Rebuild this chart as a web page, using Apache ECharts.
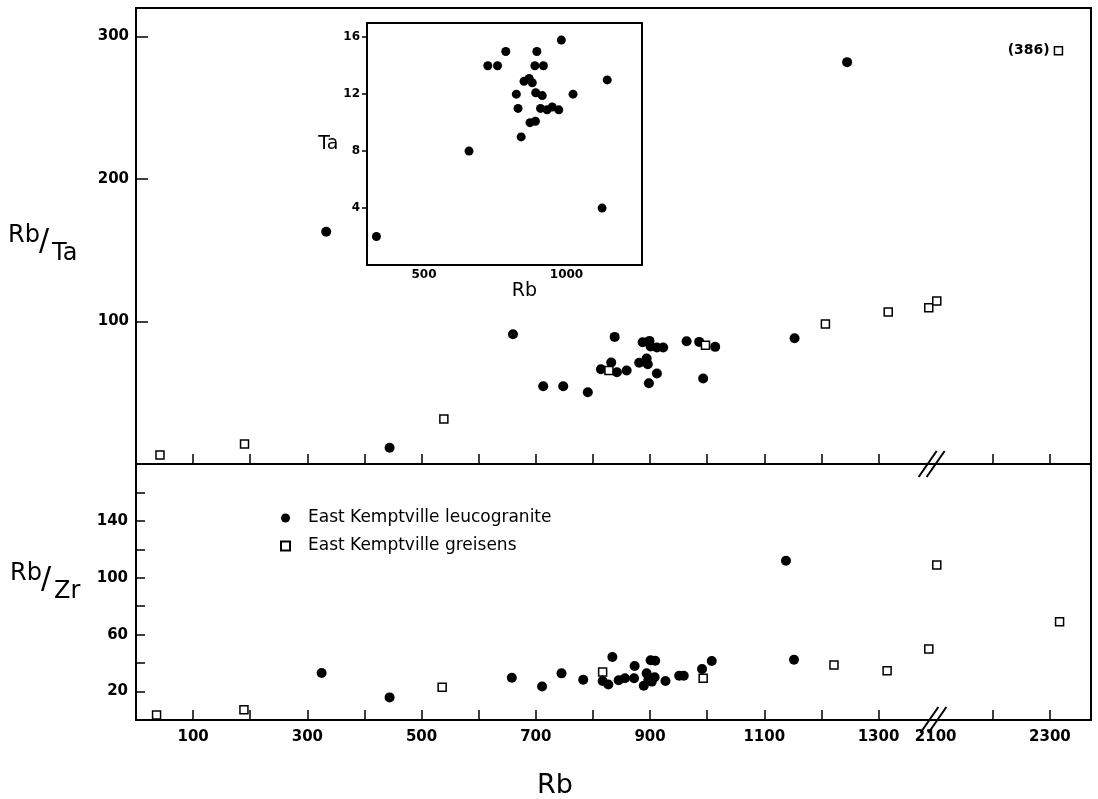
<!DOCTYPE html>
<html><head><meta charset="utf-8">
<script src="https://cdn.jsdelivr.net/npm/echarts@6/dist/echarts.min.js"></script>
<style>html,body{margin:0;padding:0;background:#fff}#c{width:1098px;height:799px}</style>
</head><body><div id="c"></div>
<script>
// ---------- data (Rb in ppm, ratios) ----------
const leucoRbTa_Rb = [333, 444, 660, 713, 748, 791, 814, 832, 838, 842, 859, 881, 887, 894, 896, 898, 899, 901, 912, 912, 923, 964, 986, 993, 1014, 1153, 1245];
const leucoRbTa    = [163, 11.4, 91, 54.6, 54.6, 50.4, 66.5, 71.2, 89.2, 64.4, 65.6, 71, 85.4, 74, 70, 56.7, 86.4, 82.4, 81.7, 63.5, 81.7, 86.1, 85.7, 60, 82.2, 88.2, 282];
const greisRbTa_Rb = [42, 190, 539, 828, 997, 1207, 1317, 2088, 2102, 2315];
const greisRbTa    = [6.3, 14, 31.5, 65.6, 83.3, 98.3, 106.7, 109.7, 114.4, 386];

const leucoRbZr_Rb = [325, 444, 658, 711, 745, 783, 817, 827, 834, 845, 856, 872, 873, 889, 894, 897, 901, 903, 908, 909, 927, 951, 959, 991, 1008, 1138, 1152];
const leucoRbZr    = [33, 15.9, 29.7, 23.5, 32.8, 28.3, 27.4, 25, 44.3, 28, 29.3, 29.3, 38, 24.1, 32.8, 28.1, 42, 27, 30, 41.7, 27.4, 31.1, 31.1, 35.8, 41.5, 112, 42.4];
const greisRbZr_Rb = [36, 189, 536, 817, 993, 1222, 1315, 2088, 2102, 2317];
const greisRbZr    = [3.5, 7.2, 23, 33.7, 29.3, 38.6, 34.7, 50, 109, 69];

const insetRb = [333, 658, 724, 758, 787, 824, 830, 841, 851, 869, 880, 872, 891, 889, 896, 892, 915, 919, 909, 932, 950, 973, 982, 1023, 1125, 1143];
const insetTa = [2.0, 8.0, 14.0, 14.0, 15.0, 12.0, 11.0, 9.0, 12.9, 13.1, 12.8, 10.0, 10.1, 14.0, 15.0, 12.1, 11.9, 14.0, 11.0, 10.9, 11.1, 10.9, 15.8, 12.0, 4.0, 13.0];

// axis break: axis position 1400 shows Rb 2100
const BREAK_AXIS = 1400, BREAK_REAL = 2100;
const xTickValues  = [100,200,300,400,500,600,700,800,900,1000,1100,1200,1300,1500,1600];
const xLabelValues = [100,300,500,700,900,1100,1300,1400,1600];
const rbTaLabels = [100, 200, 300];
const rbZrLabels = [20, 60, 100, 140];
const insetTaLabels = [4, 8, 12, 16];
const insetRbLabels = [500, 1000];
const RBTA_CAP = 290; // off-scale values are drawn at the top with their value in brackets

const NAME_L = 'East Kemptville leucogranite';
const NAME_G = 'East Kemptville greisens';

const axisPos = v => v > BREAK_AXIS ? v - (BREAK_REAL - BREAK_AXIS) : v;
const pairs = (xs, ys) => xs.map((x, i) => [axisPos(x), ys[i]]);

const FONT = 'DejaVu Sans';
const tickLbl = {color: '#000', fontFamily: FONT, fontWeight: 'bold', fontSize: 15};

const chart = echarts.init(document.getElementById('c'), null, {renderer: 'canvas'});

const circle = {symbol: 'circle', symbolSize: 10, itemStyle: {color: '#000', opacity: 1}};
const square = {symbol: 'rect', symbolSize: 8, itemStyle: {color: '#fff', borderColor: '#000', borderWidth: 1.5, opacity: 1}};

const gridStyle = {show: true, borderColor: '#000', borderWidth: 2, backgroundColor: '#fff'};

const option = {
  animation: false,
  backgroundColor: '#fff',
  grid: [
    Object.assign({left: 136, top: 8, width: 955, height: 456}, gridStyle),
    Object.assign({left: 136, top: 464, width: 955, height: 256}, gridStyle),
    Object.assign({left: 367, top: 23, width: 275, height: 242, z: 5}, gridStyle)
  ],
  xAxis: [
    {gridIndex: 0, type: 'value', min: 0, max: 1672, axisLine: {show: false}, splitLine: {show: false},
     axisTick: {show: true, inside: true, length: 10, lineStyle: {color: '#000', width: 1.5}, customValues: xTickValues},
     axisLabel: {show: false}},
    {gridIndex: 1, type: 'value', min: 0, max: 1672, axisLine: {show: false}, splitLine: {show: false},
     axisTick: {show: true, inside: true, length: 10, lineStyle: {color: '#000', width: 1.5}, customValues: xTickValues},
     axisLabel: Object.assign({show: true, margin: 10, customValues: xLabelValues,
       formatter: v => String(v >= BREAK_AXIS ? v + (BREAK_REAL - BREAK_AXIS) : v)}, tickLbl)},
    {gridIndex: 2, type: 'value', min: 300, max: 1265, axisLine: {show: false}, splitLine: {show: false},
     axisTick: {show: true, inside: true, length: 8, lineStyle: {color: '#000', width: 1.5}, customValues: insetRbLabels},
     axisLabel: Object.assign({show: true, margin: 4, customValues: insetRbLabels, formatter: v => String(v)}, tickLbl, {fontSize: 12}),
     name: 'Rb', nameLocation: 'middle', nameGap: 8,
     nameTextStyle: {color: '#000', fontFamily: FONT, fontSize: 19, verticalAlign: 'top', padding: [0, 0, 0, 40]}}
  ],
  yAxis: [
    {gridIndex: 0, type: 'value', min: 0, max: 320, axisLine: {show: false}, splitLine: {show: false},
     axisTick: {show: true, inside: true, length: 12, lineStyle: {color: '#000', width: 1.5}, customValues: rbTaLabels},
     axisLabel: Object.assign({show: true, margin: 7, customValues: rbTaLabels}, tickLbl)},
    {gridIndex: 1, type: 'value', min: 0, max: 180, interval: 20, axisLine: {show: false}, splitLine: {show: false},
     axisTick: {show: true, inside: true, length: 9, lineStyle: {color: '#000', width: 1.5}},
     axisLabel: Object.assign({show: true, margin: 8, customValues: rbZrLabels}, tickLbl)},
    {gridIndex: 2, type: 'value', min: 0, max: 17, axisLine: {show: false}, splitLine: {show: false},
     axisTick: {show: true, inside: false, length: 5, lineStyle: {color: '#000', width: 1.5}, customValues: insetTaLabels},
     axisLabel: Object.assign({show: true, margin: 7, customValues: insetTaLabels}, tickLbl, {fontSize: 12}),
     name: 'Ta', nameLocation: 'middle', nameRotate: 0, nameGap: 24,
     nameTextStyle: {color: '#000', fontFamily: FONT, fontSize: 19}}
  ],
  legend: {
    left: 275, top: 504, orient: 'vertical', itemWidth: 9, itemHeight: 9, itemGap: 10,
    selectedMode: false,
    textStyle: {color: '#000', fontFamily: FONT, fontSize: 17, lineHeight: 18, padding: [0, 0, 0, 13]},
    data: [{name: NAME_L, icon: 'circle'}, {name: NAME_G, icon: 'rect'}]
  },
  series: [
    Object.assign({type: 'scatter', name: NAME_L, xAxisIndex: 0, yAxisIndex: 0, data: pairs(leucoRbTa_Rb, leucoRbTa)}, circle),
    Object.assign({type: 'scatter', name: NAME_G, xAxisIndex: 0, yAxisIndex: 0,
      data: greisRbTa_Rb.map((x, i) => {
        const v = greisRbTa[i];
        const item = {value: [axisPos(x), Math.min(v, RBTA_CAP), v]};
        if (v > RBTA_CAP) item.label = {show: true, position: 'left', distance: 4, formatter: '(' + v + ')',
          color: '#000', fontFamily: FONT, fontWeight: 'bold', fontSize: 14};
        return item;
      })}, square),
    Object.assign({type: 'scatter', name: NAME_L, xAxisIndex: 1, yAxisIndex: 1, data: pairs(leucoRbZr_Rb, leucoRbZr)}, circle),
    Object.assign({type: 'scatter', name: NAME_G, xAxisIndex: 1, yAxisIndex: 1, data: pairs(greisRbZr_Rb, greisRbZr)}, square),
    Object.assign({type: 'scatter', name: NAME_L, xAxisIndex: 2, yAxisIndex: 2, z: 6,
      data: insetRb.map((x, i) => [x, insetTa[i]])}, circle, {symbolSize: 9})
  ]
};
chart.setOption(option);

// axis-break marks and ratio titles
const brk0 = chart.convertToPixel({xAxisIndex: 0, yAxisIndex: 0}, [BREAK_AXIS - 7, 0]);
const brk1 = chart.convertToPixel({xAxisIndex: 1, yAxisIndex: 1}, [BREAK_AXIS - 4, 0]);
function breakMarks(p) {
  const out = [];
  [-4, 4].forEach(off => out.push({type: 'line', z: 20, silent: true,
    shape: {x1: p[0] + off - 9, y1: p[1] + 13, x2: p[0] + off + 9, y2: p[1] - 13},
    style: {stroke: '#000', lineWidth: 2}}));
  return out;
}
function ratio(x, yTop, num, den) {
  const f = s => 'normal ' + s + 'px "DejaVu Sans"';
  return [
    {type: 'text', z: 20, style: {x: x, y: yTop, text: num, font: f(24), fill: '#000', verticalAlign: 'middle'}},
    {type: 'text', z: 20, style: {x: x + 31, y: yTop + 6, text: '/', font: f(30), fill: '#000', verticalAlign: 'middle'}},
    {type: 'text', z: 20, style: {x: x + 44, y: yTop + 18, text: den, font: f(24), fill: '#000', verticalAlign: 'middle'}}
  ];
}
chart.setOption({graphic: [].concat(
  breakMarks(brk0), breakMarks(brk1),
  ratio(8, 236, 'Rb', 'Ta'),
  ratio(10, 574, 'Rb', 'Zr'),
  [{type: 'text', z: 20, style: {x: 555, y: 786, text: 'Rb', font: 'normal 27px "DejaVu Sans"', fill: '#000',
     align: 'center', verticalAlign: 'middle'}}]
)});
</script>
</body></html>
